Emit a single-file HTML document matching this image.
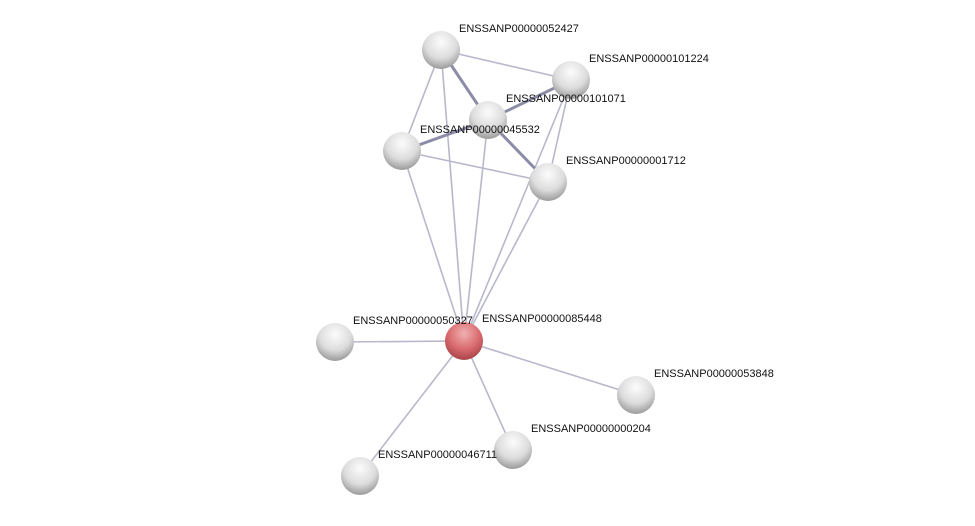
<!DOCTYPE html>
<html><head><style>body{margin:0;background:#fff}svg text{font-family:"Liberation Sans",sans-serif;font-size:11px;fill:#111}</style></head><body>
<svg width="975" height="521" xmlns="http://www.w3.org/2000/svg">
<defs>
<radialGradient id="g" cx="50%" cy="30%" r="70%"><stop offset="0" stop-color="#fcfcfc"/><stop offset="0.6" stop-color="#dcdcdc"/><stop offset="1" stop-color="#9a9a9a"/></radialGradient>
<radialGradient id="r" cx="50%" cy="30%" r="70%"><stop offset="0" stop-color="#f0b0b0"/><stop offset="0.6" stop-color="#d96a6e"/><stop offset="1" stop-color="#a84448"/></radialGradient>
</defs>
<g stroke="#b8b8cc" stroke-width="1.6" fill="none">
<line x1="441" y1="50" x2="571" y2="80"/>
<line x1="441" y1="50" x2="402" y2="151"/>
<line x1="441" y1="50" x2="464" y2="341"/>
<line x1="402" y1="151" x2="548" y2="182"/>
<line x1="402" y1="151" x2="464" y2="341"/>
<line x1="488" y1="120" x2="464" y2="341"/>
<line x1="571" y1="80" x2="464" y2="341"/>
<line x1="571" y1="80" x2="548" y2="182"/>
<line x1="548" y1="182" x2="464" y2="341"/>
<line x1="335" y1="342" x2="464" y2="341"/>
<line x1="464" y1="341" x2="636" y2="395"/>
<line x1="464" y1="341" x2="513" y2="450"/>
<line x1="464" y1="341" x2="360" y2="476"/>
</g>
<g stroke="#8c8ca8" stroke-width="3" fill="none">
<line x1="441" y1="50" x2="488" y2="120"/>
<line x1="488" y1="120" x2="571" y2="80"/>
<line x1="488" y1="120" x2="548" y2="182"/>
<line x1="402" y1="151" x2="488" y2="120"/>
</g>
<g fill="url(#g)">
<circle cx="441" cy="50" r="19"/><circle cx="571" cy="80" r="19"/><circle cx="488" cy="120" r="19"/>
<circle cx="402" cy="151" r="19"/><circle cx="548" cy="182" r="19"/><circle cx="335" cy="342" r="19"/>
<circle cx="636" cy="395" r="19"/><circle cx="513" cy="450" r="19"/><circle cx="360" cy="476" r="19"/>
</g>
<circle cx="464" cy="341" r="19" fill="url(#r)"/>
<text x="459" y="32">ENSSANP00000052427</text>
<text x="589" y="62">ENSSANP00000101224</text>
<text x="506" y="102">ENSSANP00000101071</text>
<text x="420" y="133">ENSSANP00000045532</text>
<text x="566" y="164">ENSSANP00000001712</text>
<text x="482" y="322">ENSSANP00000085448</text>
<text x="353" y="324">ENSSANP00000050327</text>
<text x="654" y="377">ENSSANP00000053848</text>
<text x="531" y="432">ENSSANP00000000204</text>
<text x="378" y="458">ENSSANP00000046711</text>
</svg>
</body></html>
